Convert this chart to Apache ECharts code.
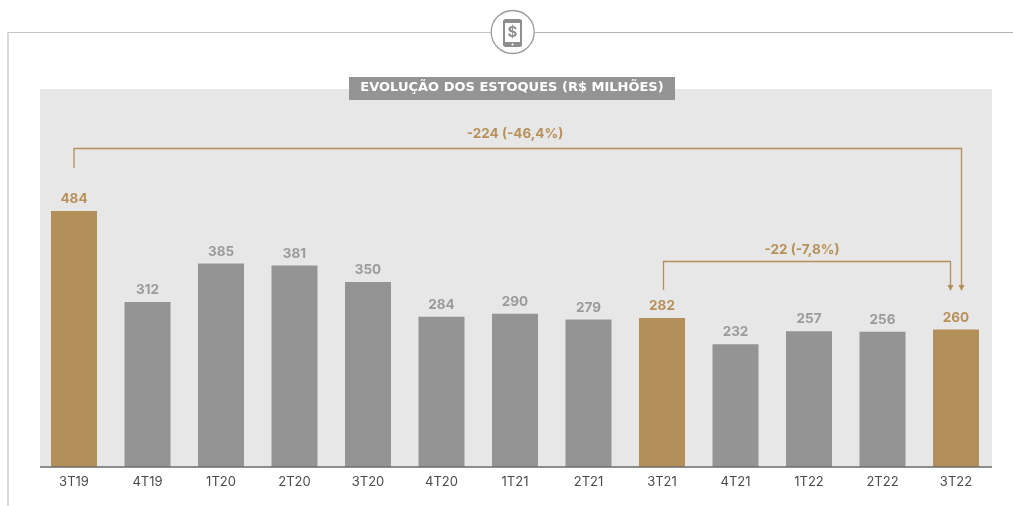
<!DOCTYPE html>
<html><head><meta charset="utf-8">
<style>html,body{margin:0;padding:0;background:#fff}#c{width:1013px;height:506px}</style>
<script src="https://cdn.jsdelivr.net/npm/echarts@6/dist/echarts.min.js"></script>
</head><body><div id="c"></div>
<script>
const categories = ['3T19','4T19','1T20','2T20','3T20','4T20','1T21','2T21','3T21','4T21','1T22','2T22','3T22'];
const estoques = [484,312,385,381,350,284,290,279,282,232,257,256,260];
const highlighted = ['3T19','3T21','3T22'];
const chartTitle = 'EVOLUÇÃO DOS ESTOQUES (R$ MILHÕES)';
const longChange = '-224 (-46,4%)';
const shortChange = '-22 (-7,8%)';

const GOLD = '#b38f5a', GOLDTXT = '#b8915a', GREY = '#949494', FONT = 'Inter, "Open Sans", sans-serif';
const chart = echarts.init(document.getElementById('c'), null, {renderer:'canvas'});
const line = (pts, color, w, z) => ({type:'polyline', z:z||10, silent:true, shape:{points:pts}, style:{stroke:color, lineWidth:w, fill:null}});
const arrow = (x, y) => ({type:'polygon', z:10, silent:true, shape:{points:[[x-3,y-5],[x+3,y-5],[x,y+1]]}, style:{fill:GOLD}});
const label = (x, y, t) => ({type:'text', z:10, silent:true, x, y, style:{text:t, fill:GOLDTXT, font:'700 13.5px '+FONT, align:'center', verticalAlign:'middle'}});

chart.setOption({
  animation:false,
  grid:{left:37.25, width:955.5, top:89, height:378},
  xAxis:{type:'category', data:categories, axisLine:{show:false}, axisTick:{show:false},
    axisLabel:{color:'#4a4a4a', fontFamily:FONT, fontSize:13, margin:9}},
  yAxis:{type:'value', min:0, max:715, show:false},
  series:[{type:'bar', barWidth:46, z:3,
    data:estoques.map((v,i)=>({value:v,
      itemStyle:{color:highlighted.includes(categories[i])?GOLD:GREY},
      label:{color:highlighted.includes(categories[i])?GOLDTXT:'#9b9b9b'}})),
    label:{show:true, position:'top', distance:5, fontFamily:FONT, fontWeight:700, fontSize:13.5}}],
  graphic:[
    {type:'rect', z:-1, silent:true, shape:{x:40,y:89,width:952,height:378}, style:{fill:'#e7e7e7'}},
    line([[40,467],[992,467]], '#6b6b6b', 1.5, 5),
    line([[8,506],[8,32.5],[491,32.5]], '#c4c4c4', 1.2),
    line([[535,32.5],[1013,32.5]], '#b4b4b4', 1),
    {type:'circle', z:10, silent:true, shape:{cx:512.7,cy:32,r:21.5}, style:{fill:'#fff', stroke:'#9a9a9a', lineWidth:1.3}},
    {type:'rect', z:10, silent:true, shape:{x:503,y:19,width:19,height:28,r:2.5}, style:{fill:'#8e8e8e'}},
    {type:'rect', z:11, silent:true, shape:{x:505,y:23,width:15,height:19}, style:{fill:'#fff'}},
    {type:'circle', z:11, silent:true, shape:{cx:512.5,cy:44.5,r:1.1}, style:{fill:'#fff'}},
    {type:'text', z:12, silent:true, x:512.5, y:32.5, style:{text:'$', fill:'#8e8e8e', font:'700 15px '+FONT, align:'center', verticalAlign:'middle'}},
    {type:'rect', z:10, silent:true, shape:{x:349,y:77,width:326,height:23}, style:{fill:'#949494'}},
    {type:'text', z:11, silent:true, x:512, y:88, style:{text:chartTitle, fill:'#fff', font:'700 13px "DejaVu Sans", sans-serif', align:'center', verticalAlign:'middle'}},
    line([[74,168],[74,148.5],[961.5,148.5],[961.5,285]], GOLD, 1.3),
    arrow(961.5,290),
    line([[663.5,290],[663.5,261.5],[950.5,261.5],[950.5,285]], GOLD, 1.3),
    arrow(950.5,290),
    label(515,134,longChange),
    label(802,250,shortChange)
  ]
});
</script></body></html>
